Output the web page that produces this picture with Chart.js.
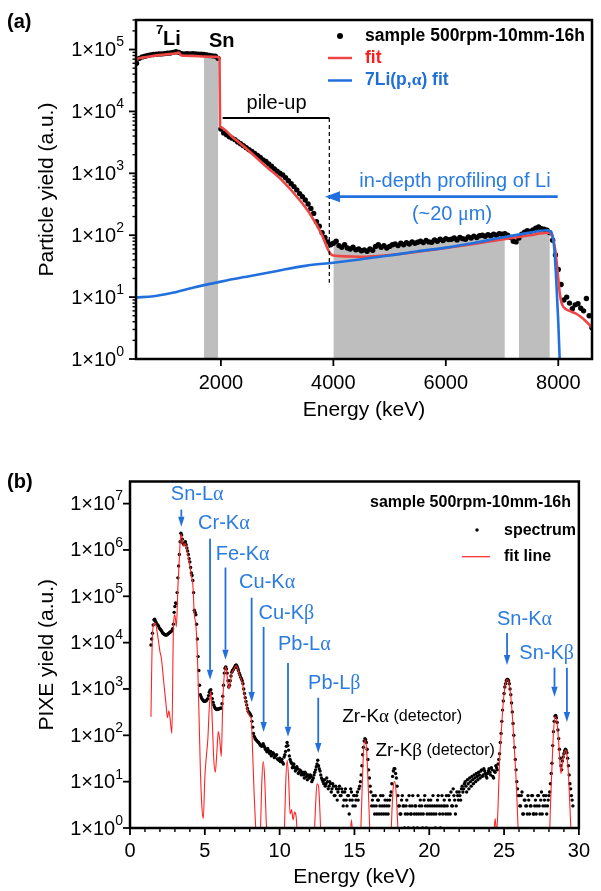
<!DOCTYPE html>
<html><head><meta charset="utf-8">
<script src="https://cdn.jsdelivr.net/npm/chart.js@4.4.1/dist/chart.umd.min.js"></script>
<style>
html,body{margin:0;padding:0;background:#fff;}
#wa{position:absolute;left:0;top:0;width:601px;height:440px;}
#wb{position:absolute;left:0;top:440px;width:601px;height:451px;}
</style></head><body>
<div id="wa"><canvas id="ca"></canvas></div>
<div id="wb"><canvas id="cb"></canvas></div>
<script>
// ---------------- Panel (a) data ----------------
const sampleStart = 500, sampleStep = 50; // keV
const sampleY = [
 6.0e4,7.2e4,7.6e4,7.8e4,8.0e4,8.2e4,8.3e4,8.4e4,8.5e4,8.5e4,
 8.6e4,8.7e4,8.8e4,9.0e4,9.2e4,9.0e4,8.6e4,8.5e4,8.6e4,8.5e4,
 8.6e4,8.5e4,8.4e4,8.4e4,8.3e4,8.2e4,8.0e4,7.9e4,7.8e4,7.2e4,
 5.2e3,4.5e3,4.2e3,3.9e3,3.7e3,3.5e3,3.2e3,3.0e3,2.8e3,2.6e3,
 2.4e3,2.25e3,2.1e3,1.95e3,1.8e3,1.65e3,1.55e3,1.42e3,1.3e3,1.18e3,
 1080,1000,940,850,760,680,610,540,470,420,
 370,320,270,225,165,140,110,92,78,70,
 74,80,68,64,70,62,60,64,58,60,
 56,58,55,60,57,66,70,64,68,62,
 66,70,72,68,74,70,76,72,78,74,
 77,80,76,82,78,77,84,80,86,82,
 88,85,86,90,84,92,88,86,94,90,
 96,92,98,100,96,102,98,104,100,106,
 104,106,100,92,80,78,90,104,112,118,
 115,122,130,136,128,125,120,110,83,48,
 28,16,9,10,8,6.5,7.5,7.8,6.6,6.0,
 9.5,5.0,3.2
];
const grayRanges = [[1700,1950],[4000,7050],[7300,7850]];
const fitE = [490,600,800,1000,1200,1250,1300,1500,1700,1900,
 1960,1975,1985,2000,2200,2500,2800,3100,3400,3600,
 3800,3900,3950,4000,4500,5000,5500,6000,6500,7000,
 7500,7800,7850,7900,7950,8000,8030,8060,8100,8200,
 8300,8400,8500,8600];
const fitY = [7.0e4,7.4e4,7.9e4,8.3e4,8.7e4,8.9e4,8.0e4,7.9e4,7.7e4,7.6e4,
 7.5e4,7.2e4,5.8e3,5.5e3,3.9e3,2.3e3,1.3e3,750,370,210,
 100,60,50,47,45,48,54,62,72,85,
 100,110,108,92,55,20,11,8,6.8,6,
 5.5,4.8,4,3.2];
const liE = [490,800,1100,1500,2000,2500,3000,3500,4000,4500,5000,5500,6000,6500,7000,7500,7800,7850,7900,7930,7965,8000,8025,8040];
const liY = [9.9,10.3,11.5,14.2,17.8,21.8,26.5,32,36,41,47,55,63,75,92,110,120,116,97,60,18,4,1,0.5];
const xTicksA = [2000,4000,6000,8000];
const yTicksA = [1,10,100,1000,10000,100000];

// ---------------- Panel (b) data ----------------
const specStart = 1.4, specStep = 0.1; // keV, channels at 1.40, 1.50, ...
const spectrum = [
 8.9e3,1.6e4,3.1e4,2.9e4,2.5e4,2.3e4,
 2.0e4,1.8e4,1.6e4,1.5e4,1.45e4,1.5e4,1.6e4,1.7e4,1.8e4,2.5e4,
 6e4,7e4,2.5e5,8e5,2.3e6,1.7e6,1.3e6,1.5e6,1.1e6,8e5,
 5.5e5,3.2e5,2.2e5,5e4,4e4,1.2e4,2.5e3,750,620,560,
 540,560,620,850,960,620,450,380,360,370,
 380,390,700,2.2e3,3.0e3,2.2e3,1.1e3,1.5e3,2.3e3,2.6e3,
 3.0e3,3.3e3,2.8e3,2.2e3,1.8e3,1.5e3,1.0e3,650,450,330,
 300,260,150,95,82,75,70,62,58,66,
 55,48,52,42,45,38,40,35,38,30,
 32,28,26,34,45,70,48,30,25,22,
 20,18,19,16,17,15,14,16,13,14,
 12,13,11,14,18,24,22,17,12,10,
 11,9,10,8,9,7,8,5,7,6,
 8,5,6,4,7,3,5,4,6,3,
 5,4,6,7,10,22,55,85,70,30,
 12,6,4,3,5,2,4,3,2,5,
 3,2,4,3,5,9,17,19,12,5,
 3,2,5,3,2,4,1,3,2,5,
 2,3,1,2,4,3,2,5,1,3,
 2,4,3,2,1,3,5,2,3,2,
 4,2,3,5,2,3,7,4,3,5,
 6,4,8,7,10,6,9,12,8,11,
 14,10,13,16,12,18,14,17,13,15,
 19,14,18,12,16,20,24,40,110,350,
 800,1300,1600,1500,1000,500,180,55,18,7,
 5,3,6,2,4,3,5,2,3,5,
 2,4,3,5,2,6,3,4,5,3,
 5,9,25,120,260,240,130,50,22,28,
 40,50,42,22,9,5,3
];
const specOddStart = 1.45; // channels at 1.45, 1.55, ...
const spectrumOdd = [
 1.2e4,2.4e4,3.2e4,2.7e4,2.4e4,2.1e4,
 1.9e4,1.7e4,1.55e4,1.48e4,1.47e4,1.55e4,1.65e4,1.75e4,2.0e4,4.5e4,
 7.2e4,1.2e5,4.5e5,1.5e6,2.1e6,1.4e6,1.4e6,1.3e6,9.5e5,6.5e5,
 4.2e5,2.8e5,1.2e5,4.5e4,2.5e4,5e3,1.2e3,680,590,545,
 550,590,720,930,800,520,410,370,365,375,
 385,480,1.2e3,2.8e3,2.7e3,1.5e3,1.2e3,1.9e3,2.5e3,2.8e3,
 3.2e3,3.1e3,2.5e3,2.0e3,1.65e3,1.3e3,800,540,380,310,
 280,200,110,88,78,72,66,60,62,60,
 50,44,47,40,36,42,33,37,31,29,
 27,30,24,38,58,60,36,27,20,24,
 17,21,15,18,14,16,12,15,11,13,
 14,10,12,16,21,29,19,14,11,9,
 8,12,7,10,6,9,5,8,4,7,
 5,7,3,6,4,5,2,7,4,5,
 3,5,4,8,14,38,75,80,50,18,
 8,3,5,2,3,4,2,5,3,2,
 4,3,2,4,6,13,19,15,8,3,
 2,4,3,1,3,2,5,2,3,1,
 3,2,5,3,2,1,4,3,2,4,
 3,2,5,3,2,4,3,1,5,3,
 3,5,2,4,6,3,5,2,6,4,
 5,7,6,9,8,11,7,10,13,9,
 12,15,11,14,17,13,19,15,12,17,
 16,20,13,17,22,18,30,70,200,550,
 1100,1500,1600,1300,750,320,100,30,10,5,
 3,5,2,4,3,2,4,3,5,2,
 3,2,5,3,4,2,5,3,2,4,
 6,15,60,200,270,190,85,32,18,34,
 46,48,32,14,7,4
];
const fitLine = [
 250,1.5e4,2.5e4,2.6e4,1.8e4,1.1e4,
 6.5e3,4.5e3,2.2e3,1e3,500,240,340,200,110,1.9e4,
 4e4,2.2e4,1.5e5,7e5,2.2e6,1.6e6,1.2e6,1.4e6,1.0e6,7e5,
 4.5e5,2.8e5,1.8e5,4e4,2.5e4,6e3,400,20,3,1.6,
 12,35,80,400,900,200,30,16,40,120,
 80,35,500,2e3,3e3,1.8e3,1.0e3,1.4e3,2.2e3,2.5e3,
 2.9e3,3.2e3,2.7e3,2.1e3,1.7e3,1.4e3,900,600,420,300,
 260,230,40,5,1,0.3,0.2,0.5,8,27,
 12,1.5,0.3,0.1,0.1,0.1,0.1,0.1,0.1,0.1,
 0.1,0.1,0.1,0.5,8,29,12,2,2.5,1.5,
 2.2,1.8,0.5,0.1,0.1,0.1,0.1,0.1,0.1,0.1,
 0.1,0.1,0.1,0.5,3,9,8,2,0.3,0.1,
 0.1,0.1,0.1,0.1,0.1,0.1,0.1,0.1,0.1,0.1,
 0.1,0.1,0.1,0.1,0.1,0.1,0.1,0.5,1.5,0.5,
 0.1,0.1,0.1,0.1,0.5,5,40,80,55,12,
 1.5,0.2,0.1,0.1,0.1,0.1,0.1,0.1,0.1,0.1,
 0.1,0.1,0.1,0.1,0.3,2,8,10,5,1,
 0.1,0.1,0.1,0.1,0.1,0.1,0.1,0.1,0.1,0.1,
 0.1,0.1,0.1,0.1,0.1,0.1,0.1,0.1,0.1,0.1,
 0.1,0.1,0.1,0.1,0.1,0.1,0.1,0.1,0.1,0.1,
 0.1,0.1,0.1,0.1,0.1,0.1,0.1,0.1,0.1,0.1,
 0.1,0.1,0.1,0.1,0.1,0.1,0.1,0.1,0.1,0.1,
 0.1,0.1,0.1,0.1,0.1,0.1,0.1,0.1,0.1,0.1,
 0.1,0.1,0.1,0.5,1.6,0.8,3,29,100,330,
 780,1300,1600,1450,950,450,160,45,12,2,
 0.3,0.1,0.1,0.1,0.1,0.1,0.1,0.1,0.1,0.1,
 0.1,0.1,0.1,0.1,0.1,0.1,0.1,0.1,0.1,0.1,
 0.2,3,20,110,250,230,120,40,15,25,
 38,48,38,15,3,0.5,0.1
];
const xTicksB = [0,5,10,15,20,25,30];
const yTicksB = [1,10,100,1000,1e4,1e5,1e6,1e7];
// peak labels: text, left energy (keV), log10 of vertical centre
const peakLabels = [
 ['Sn-Lα',2.73,7.19],['Cr-Kα',4.55,6.57],['Fe-Kα',5.73,5.90],['Cu-Kα',7.29,5.29],
 ['Cu-Kβ',8.59,4.62],['Pb-Lα',9.89,3.95],['Pb-Lβ',11.9,3.11],
 ['Sn-Kα',24.53,4.49],['Sn-Kβ',26.02,3.76]
];
// arrows: energy, log10 start, log10 tip
const peakArrows = [
 [3.43,6.87,6.50],[5.35,6.24,3.20],[6.38,5.62,3.63],[8.13,4.97,2.72],
 [8.93,4.34,2.07],[10.56,3.56,1.97],[12.58,2.81,1.62],
 [25.2,4.21,3.52],[28.37,3.46,2.83],[29.2,3.46,2.29]
];
const detLabels = [['Zr-Kα',14.18,2.40],['Zr-Kβ',16.4,1.66]];

// ---------------- helpers ----------------
const SANS = '"Liberation Sans", Arial, sans-serif';
const SERIF = '"Liberation Serif", "Times New Roman", serif';
const BLUE = '#2270de', BLUE_T = '#2a7be2', RED_A = '#f04545', RED_B = '#ff2424';
Chart.defaults.font.family = SANS;
Chart.defaults.color = '#000';

function richText(ctx, text, x, y, o) {
  const runs = []; let cur = '', g0 = null;
  for (const ch of text) {
    const g = /[\u0370-\u03FF]/.test(ch);
    if (g0 === null) g0 = g;
    if (g !== g0) { runs.push({s: cur, g: g0}); cur = ''; g0 = g; }
    cur += ch;
  }
  if (cur) runs.push({s: cur, g: g0});
  const b = o.bold ? 'bold ' : '';
  const f = g => g ? b + o.size + 'px ' + SERIF : b + o.size + 'px ' + SANS;
  let tot = 0;
  runs.forEach(r => { ctx.font = f(r.g); r.w = ctx.measureText(r.s).width; tot += r.w; });
  let cx = o.align === 'center' ? x - tot / 2 : (o.align === 'right' ? x - tot : x);
  ctx.fillStyle = o.color; ctx.textAlign = 'left'; ctx.textBaseline = o.baseline || 'alphabetic';
  runs.forEach(r => { ctx.font = f(r.g); ctx.fillText(r.s, cx, y); cx += r.w; });
  return tot;
}
function seg(ctx, x1, y1, x2, y2) { ctx.beginPath(); ctx.moveTo(x1, y1); ctx.lineTo(x2, y2); ctx.stroke(); }
function arrow(ctx, x1, y1, x2, y2, color, lw, hl, hh) {
  const a = Math.atan2(y2 - y1, x2 - x1);
  const bx = x2 - hl * Math.cos(a), by = y2 - hl * Math.sin(a);
  ctx.strokeStyle = color; ctx.lineWidth = lw; seg(ctx, x1, y1, bx, by);
  ctx.fillStyle = color; ctx.beginPath(); ctx.moveTo(x2, y2);
  ctx.lineTo(bx + hh * Math.sin(a), by - hh * Math.cos(a));
  ctx.lineTo(bx - hh * Math.sin(a), by + hh * Math.cos(a)); ctx.closePath(); ctx.fill();
}

// frame, ticks and power-of-ten y labels
function frameTicks(o) {
  return { id: 'frameTicks', afterDraw(chart) {
    const ctx = chart.ctx, {left, right, top, bottom} = chart.chartArea;
    const xs = chart.scales.x, ys = chart.scales.y;
    ctx.save(); ctx.strokeStyle = '#000'; ctx.lineCap = 'butt';
    ctx.lineWidth = 1.8;
    o.xMajor.forEach(v => { const p = xs.getPixelForValue(v); seg(ctx, p, bottom, p, bottom + 7); });
    ctx.lineWidth = 1.4;
    o.xMinor.forEach(v => { const p = xs.getPixelForValue(v); seg(ctx, p, bottom, p, bottom + 4); });
    ctx.lineWidth = 1.8;
    o.yMajor.forEach(v => { const p = ys.getPixelForValue(v); seg(ctx, left, p, left - 7, p); });
    ctx.lineWidth = 1.4;
    o.yMinor.forEach(v => { const p = ys.getPixelForValue(v); seg(ctx, left, p, left - 3.5, p); });
    ctx.lineWidth = 2.5; ctx.strokeRect(left, top, right - left, bottom - top);
    ctx.fillStyle = '#000'; ctx.textBaseline = 'middle';
    o.yMajor.forEach(v => {
      const p = ys.getPixelForValue(v), ex = String(Math.round(Math.log10(v)));
      ctx.font = '14px ' + SANS; const ew = ctx.measureText(ex).width;
      ctx.textAlign = 'left'; ctx.fillText(ex, left - o.yGap - ew, p - 7);
      ctx.font = '20px ' + SANS; ctx.textAlign = 'right'; ctx.fillText('1×10', left - o.yGap - ew, p + 1);
    });
    ctx.restore();
  }};
}

// ---------------- Chart (a) ----------------
const sampleE = sampleY.map((_, i) => sampleStart + i * sampleStep);
const grayPts = [];
grayRanges.forEach(([a, b]) => {
  sampleE.forEach((e, i) => { if (e >= a && e <= b) grayPts.push({x: e, y: sampleY[i]}); });
  grayPts.push({x: b + 1, y: null});
});
const yMinorA = [];
for (let n = 0; n <= 5; n++) for (let k = 2; k <= 9; k++) { const v = k * 10 ** n; if (v <= 3e5) yMinorA.push(v); }

const annA = { id: 'annA', afterDraw(chart) {
  const ctx = chart.ctx, xs = chart.scales.x, ys = chart.scales.y;
  const X = v => xs.getPixelForValue(v), Y = v => ys.getPixelForValue(v);
  ctx.save();
  richText(ctx, '(a)', 7, 28, {size: 20, bold: true, color: '#000'});
  richText(ctx, '7', 156, 34, {size: 13, bold: true, color: '#000'});
  richText(ctx, 'Li', X(970), Y(1.2e5), {size: 20, bold: true, color: '#000'});
  richText(ctx, 'Sn', X(1788), Y(1.08e5), {size: 20, bold: true, color: '#000'});
  ctx.strokeStyle = '#000'; ctx.lineWidth = 2;
  seg(ctx, X(2032), Y(7.85e3), X(3928), Y(7.85e3));
  ctx.lineWidth = 1.2; ctx.setLineDash([4, 3]);
  seg(ctx, X(3928), Y(7.85e3), X(3928), Y(17));
  ctx.setLineDash([]);
  richText(ctx, 'pile-up', X(2990), Y(7.85e3) - 9, {size: 20, color: '#000', align: 'center'});
  arrow(ctx, X(7990), Y(420), X(3851), Y(420), BLUE, 2.6, 15, 5.5);
  richText(ctx, 'in-depth profiling of Li', X(6163), Y(607), {size: 20, color: BLUE_T, align: 'center'});
  richText(ctx, '(~20 μm)', X(6110), Y(178), {size: 20, color: BLUE_T, align: 'center'});
  ctx.fillStyle = '#000'; ctx.beginPath(); ctx.arc(340, 36, 3, 0, 2 * Math.PI); ctx.fill();
  richText(ctx, 'sample 500rpm-10mm-16h', 365, 36, {size: 17.5, bold: true, color: '#000', baseline: 'middle'});
  ctx.strokeStyle = RED_A; ctx.lineWidth = 2.5; seg(ctx, 328, 58, 352, 58);
  richText(ctx, 'fit', 365, 58, {size: 17.5, bold: true, color: '#ff1c1c', baseline: 'middle'});
  ctx.strokeStyle = BLUE; seg(ctx, 328, 80.5, 352, 80.5);
  richText(ctx, '7Li(p,α) fit', 365, 80.5, {size: 17.5, bold: true, color: '#1f6fd8', baseline: 'middle'});
  ctx.restore();
}};

new Chart(document.getElementById('ca'), {
  type: 'line',
  data: { datasets: [
    {label: '7Li(p,α) fit', data: liE.map((x, i) => ({x, y: liY[i]})), borderColor: BLUE, borderWidth: 2.6,
      pointRadius: 0, cubicInterpolationMode: 'monotone', fill: false},
    {label: 'fit', data: fitE.map((x, i) => ({x, y: fitY[i]})), borderColor: RED_A, borderWidth: 2.6,
      pointRadius: 0, cubicInterpolationMode: 'monotone', fill: false},
    {label: 'sample 500rpm-10mm-16h', data: sampleE.map((x, i) => ({x, y: sampleY[i]})), showLine: false,
      pointRadius: 2.7, pointBackgroundColor: '#000', pointBorderWidth: 0, borderColor: '#000'},
    {label: 'gray', data: grayPts, fill: 'start', backgroundColor: '#bebebe', borderColor: '#b4b4b4',
      borderWidth: 0.5, pointRadius: 0, spanGaps: false}
  ]},
  options: {
    responsive: true, maintainAspectRatio: false, animation: false, devicePixelRatio: 1, events: [],
    layout: {padding: {left: 0, top: 20, right: 9, bottom: 0}},
    plugins: {legend: {display: false}, tooltip: {enabled: false}},
    scales: {
      x: {type: 'linear', min: 490, max: 8600,
        afterBuildTicks: ax => { ax.ticks = xTicksA.map(v => ({value: v})); },
        afterFit: s => { s.height = 81; },
        grid: {display: false, drawTicks: false}, border: {display: false},
        ticks: {font: {size: 20}, color: '#000', padding: 12, maxRotation: 0, autoSkip: false, callback: v => String(v)},
        title: {display: true, text: 'Energy (keV)', font: {size: 21}, color: '#000', padding: {top: 0, bottom: 17}}},
      y: {type: 'logarithmic', min: 1, max: 3e5,
        afterBuildTicks: ax => { ax.ticks = yTicksA.map(v => ({value: v})); },
        afterFit: s => { s.width = 136; },
        grid: {display: false, drawTicks: false}, border: {display: false},
        ticks: {display: false},
        title: {display: true, text: 'Particle yield (a.u.)', font: {size: 21}, color: '#000', padding: {top: 35, bottom: 0}}}
    }
  },
  plugins: [frameTicks({xMajor: xTicksA, xMinor: [], yMajor: yTicksA, yMinor: yMinorA, yGap: 12}), annA]
});

// ---------------- Chart (b) ----------------
const specPts = spectrum.map((y, i) => ({x: +(specStart + i * specStep).toFixed(2), y}))
  .concat(spectrumOdd.map((y, i) => ({x: +(specOddStart + i * specStep).toFixed(2), y})));
const fitPts = fitLine.map((y, i) => ({x: +(specStart + i * specStep).toFixed(2), y}));
const xMinorB = [];
for (let e = 1; e < 30; e++) if (e % 5) xMinorB.push(e);

const annB = { id: 'annB', afterDraw(chart) {
  const ctx = chart.ctx, xs = chart.scales.x, ys = chart.scales.y;
  const X = v => xs.getPixelForValue(v), YL = l => ys.getPixelForValue(10 ** l);
  ctx.save();
  richText(ctx, '(b)', 7, 48, {size: 20, bold: true, color: '#000'});
  peakLabels.forEach(([t, e, l]) => richText(ctx, t, X(e), YL(l), {size: 20, color: BLUE_T, baseline: 'middle'}));
  peakArrows.forEach(([e, a, b]) => arrow(ctx, X(e), YL(a), X(e), YL(b), BLUE, 1.8, 10, 3.2));
  detLabels.forEach(([t, e, l]) => {
    const w = richText(ctx, t, X(e), YL(l), {size: 19, color: '#000', baseline: 'middle'});
    richText(ctx, ' (detector)', X(e) + w, YL(l), {size: 16, color: '#000', baseline: 'middle'});
  });
  richText(ctx, 'sample 500rpm-10mm-16h', 370, 63, {size: 16, bold: true, color: '#000', baseline: 'middle'});
  ctx.fillStyle = '#000'; ctx.beginPath(); ctx.arc(477, 90, 1.7, 0, 2 * Math.PI); ctx.fill();
  richText(ctx, 'spectrum', 504, 91, {size: 16, bold: true, color: '#000', baseline: 'middle'});
  ctx.strokeStyle = RED_B; ctx.lineWidth = 1.2; seg(ctx, 462, 116.7, 490, 116.7);
  richText(ctx, 'fit line', 504, 117, {size: 16, bold: true, color: '#000', baseline: 'middle'});
  ctx.restore();
}};

new Chart(document.getElementById('cb'), {
  type: 'line',
  data: { datasets: [
    {label: 'fit line', data: fitPts, borderColor: RED_B, borderWidth: 1.1,
      pointRadius: 0, cubicInterpolationMode: 'monotone', fill: false},
    {label: 'spectrum', data: specPts, showLine: false,
      pointRadius: 1.7, pointBackgroundColor: '#000', pointBorderWidth: 0, borderColor: '#000'}
  ]},
  options: {
    responsive: true, maintainAspectRatio: false, animation: false, devicePixelRatio: 1, events: [],
    layout: {padding: {left: 0, top: 41.5, right: 10, bottom: 0}},
    plugins: {legend: {display: false}, tooltip: {enabled: false}},
    scales: {
      x: {type: 'linear', min: 0, max: 30,
        afterBuildTicks: ax => { ax.ticks = xTicksB.map(v => ({value: v})); },
        afterFit: s => { s.height = 63; },
        grid: {display: false, drawTicks: false}, border: {display: false},
        ticks: {font: {size: 20}, color: '#000', padding: 11, maxRotation: 0, autoSkip: false, callback: v => String(v)},
        title: {display: true, text: 'Energy (keV)', font: {size: 21}, color: '#000', padding: {top: 0, bottom: 1}}},
      y: {type: 'logarithmic', min: 1, max: 3e7,
        afterBuildTicks: ax => { ax.ticks = yTicksB.map(v => ({value: v})); },
        afterFit: s => { s.width = 130; },
        grid: {display: false, drawTicks: false}, border: {display: false},
        ticks: {display: false},
        title: {display: true, text: 'PIXE yield (a.u.)', font: {size: 21}, color: '#000', padding: {top: 35, bottom: 0}}}
    }
  },
  plugins: [frameTicks({xMajor: xTicksB, xMinor: xMinorB, yMajor: yTicksB, yMinor: [], yGap: 7}), annB]
});
</script></body></html>
